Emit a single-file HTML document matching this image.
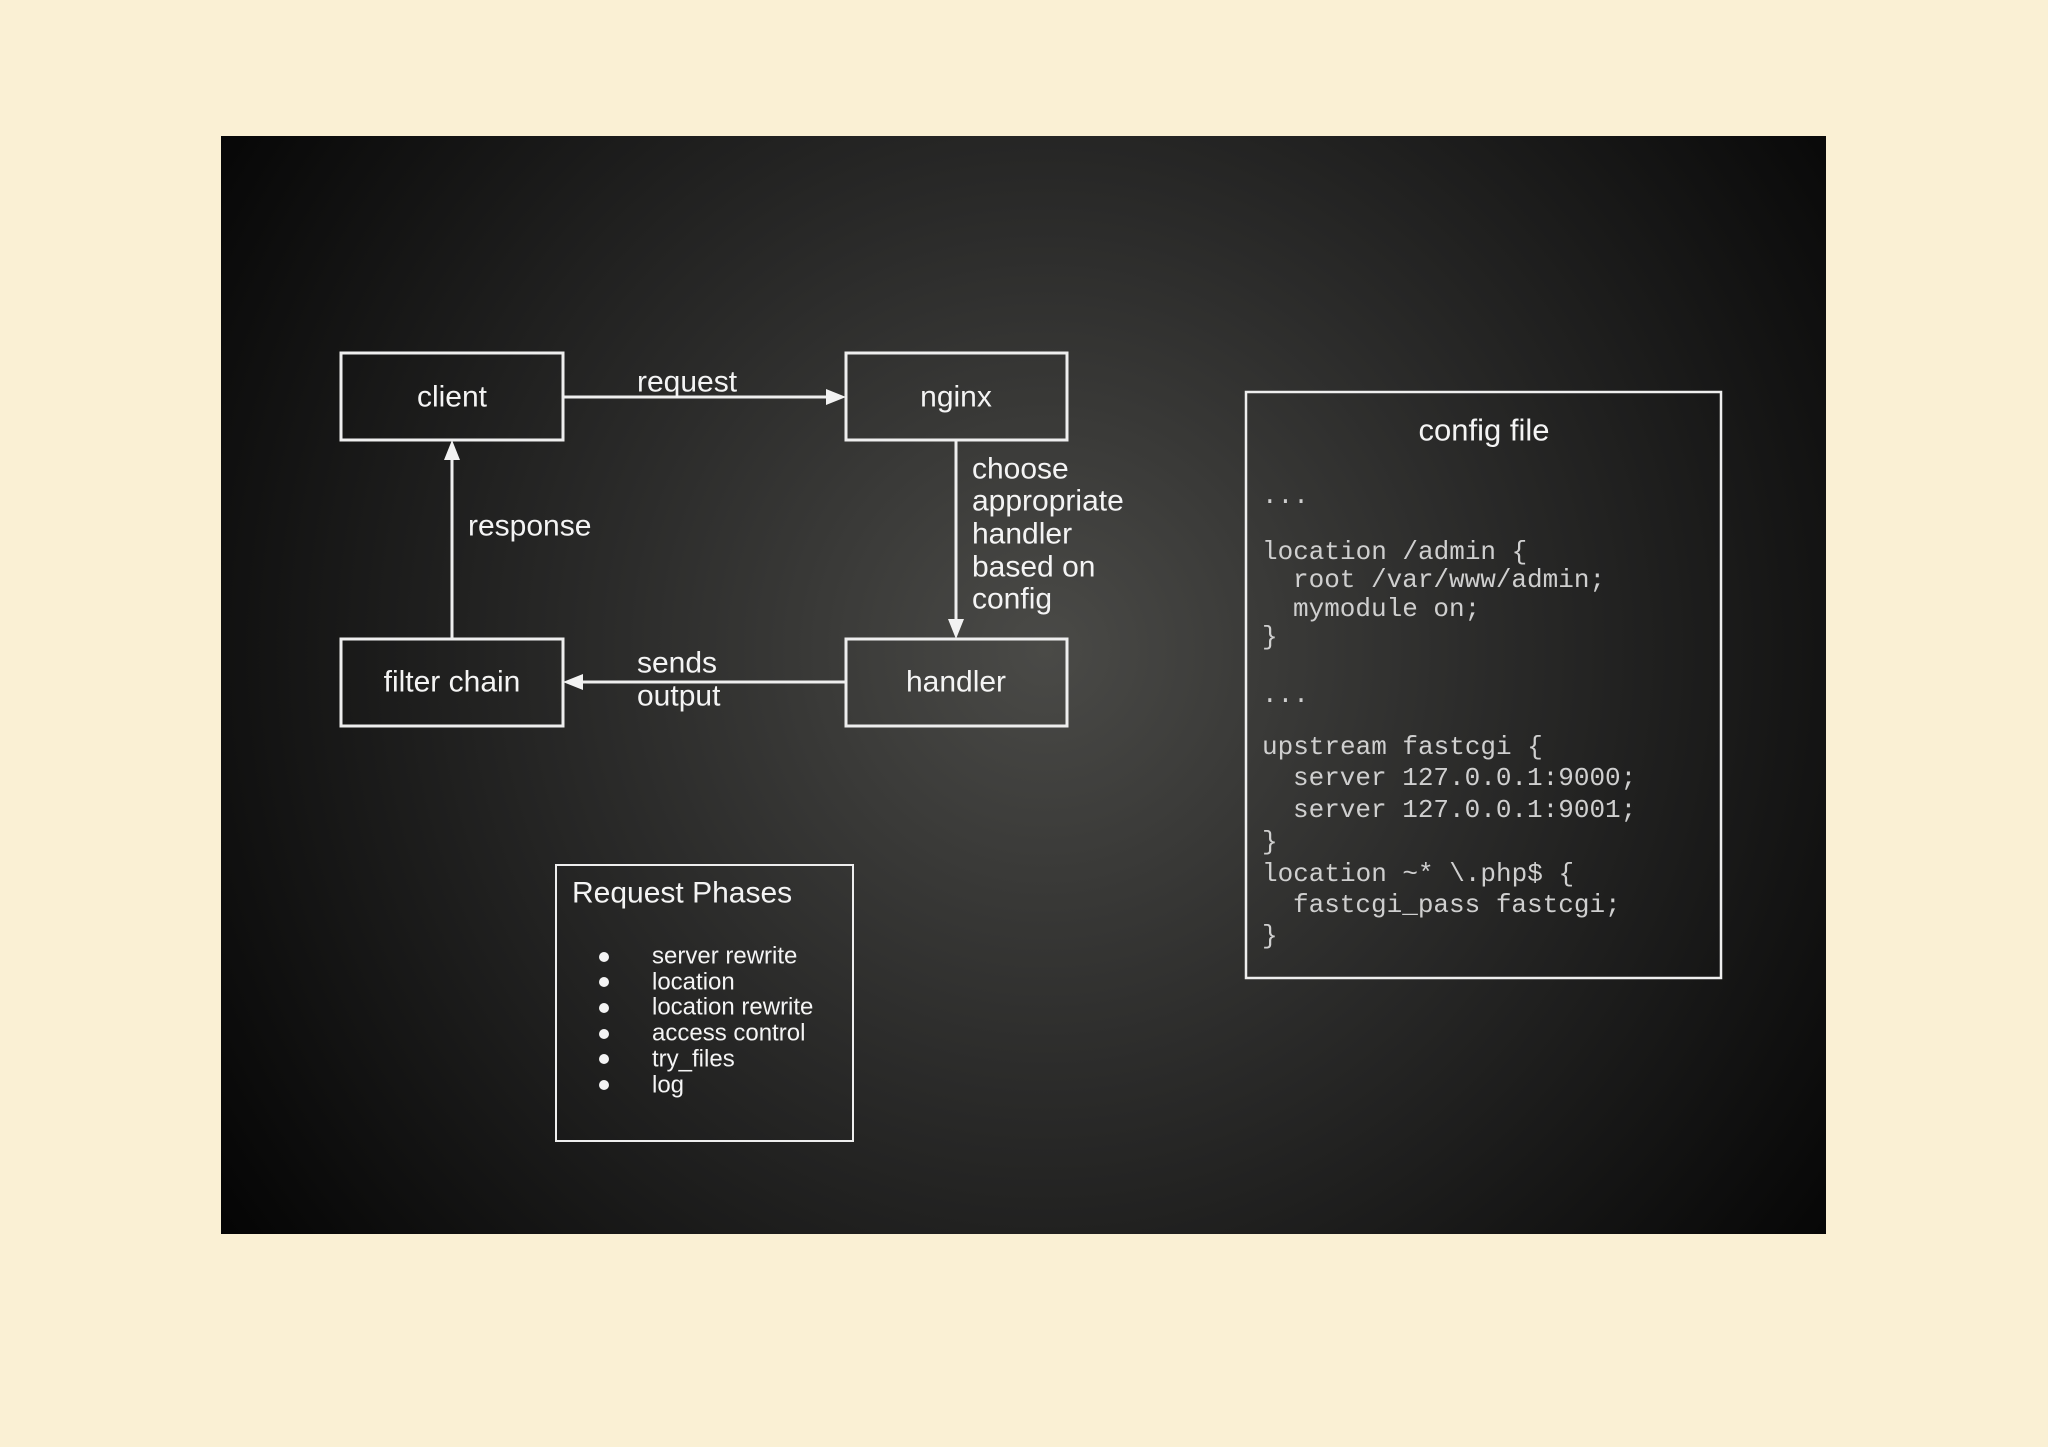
<!DOCTYPE html>
<html><head><meta charset="utf-8"><style>
html,body{margin:0;padding:0;background:#faf0d4;}
svg{display:block;}
</style></head><body>
<svg width="2048" height="1447" viewBox="0 0 2048 1447" xmlns="http://www.w3.org/2000/svg">
<defs>
<radialGradient id="g" cx="1045" cy="650" r="1000" gradientUnits="userSpaceOnUse">
<stop offset="0" stop-color="#4a4a47"/>
<stop offset="0.45" stop-color="#2a2a29"/>
<stop offset="1" stop-color="#050505"/>
</radialGradient>
</defs>
<rect width="2048" height="1447" fill="#faf0d4"/>
<rect x="221" y="136" width="1605" height="1098" fill="url(#g)"/>
<g fill="none" stroke="#eeeeee" stroke-width="3">
<rect x="341" y="353" width="222" height="87"/>
<rect x="846" y="353" width="221" height="87"/>
<rect x="341" y="639" width="222" height="87"/>
<rect x="846" y="639" width="221" height="87"/>
<rect x="1246" y="392" width="475" height="586" stroke-width="2.5"/>
<rect x="556" y="865" width="297" height="276" stroke-width="2"/>
</g>
<g stroke="#eeeeee" stroke-width="3" fill="#f2f2f2">
<line x1="563" y1="397" x2="826" y2="397"/>
<path d="M846,397 L826,389 L826,405 z" stroke="none"/>
<line x1="956" y1="440" x2="956" y2="620"/>
<path d="M956,639 L948,619 L964,619 z" stroke="none"/>
<line x1="452" y1="639" x2="452" y2="460"/>
<path d="M452,440 L444,460 L460,460 z" stroke="none"/>
<line x1="846" y1="682" x2="583" y2="682"/>
<path d="M563,682 L583,674 L583,690 z" stroke="none"/>
</g>
<g font-family="Liberation Sans, sans-serif" font-size="30" fill="#f4f4f4" dominant-baseline="central">
<text x="452" y="397" text-anchor="middle">client</text>
<text x="956" y="397" text-anchor="middle">nginx</text>
<text x="452" y="682" text-anchor="middle">filter chain</text>
<text x="956" y="682" text-anchor="middle">handler</text>
<text x="637" y="382">request</text>
<text x="468" y="526">response</text>
<text x="637" y="663">sends</text>
<text x="637" y="696">output</text>
<text x="972" y="469">choose</text>
<text x="972" y="501">appropriate</text>
<text x="972" y="534">handler</text>
<text x="972" y="567">based on</text>
<text x="972" y="599">config</text>
<text x="1484" y="430" text-anchor="middle" font-size="31">config file</text>
<text x="572" y="893" font-size="30">Request Phases</text>
<g font-size="24">
<text x="652" y="956">server rewrite</text>
<text x="652" y="982">location</text>
<text x="652" y="1007">location rewrite</text>
<text x="652" y="1033">access control</text>
<text x="652" y="1059">try_files</text>
<text x="652" y="1085">log</text>
</g>
</g>
<g fill="#f4f4f4">
<circle cx="604" cy="957" r="5"/><circle cx="604" cy="982" r="5"/><circle cx="604" cy="1008" r="5"/>
<circle cx="604" cy="1034" r="5"/><circle cx="604" cy="1059" r="5"/><circle cx="604" cy="1085" r="5"/>
</g>
<g font-family="Liberation Mono, monospace" font-size="26" fill="#cfcfcf" dominant-baseline="central">
<text x="1262" y="496">...</text>
<text x="1262" y="552">location /admin {</text>
<text x="1293" y="580">root /var/www/admin;</text>
<text x="1293" y="609">mymodule on;</text>
<text x="1262" y="637">}</text>
<text x="1262" y="695">...</text>
<text x="1262" y="747">upstream fastcgi {</text>
<text x="1293" y="778">server 127.0.0.1:9000;</text>
<text x="1293" y="810">server 127.0.0.1:9001;</text>
<text x="1262" y="842">}</text>
<text x="1262" y="874">location ~* \.php$ {</text>
<text x="1293" y="905">fastcgi_pass fastcgi;</text>
<text x="1262" y="936">}</text>
</g>
</svg>
</body></html>
